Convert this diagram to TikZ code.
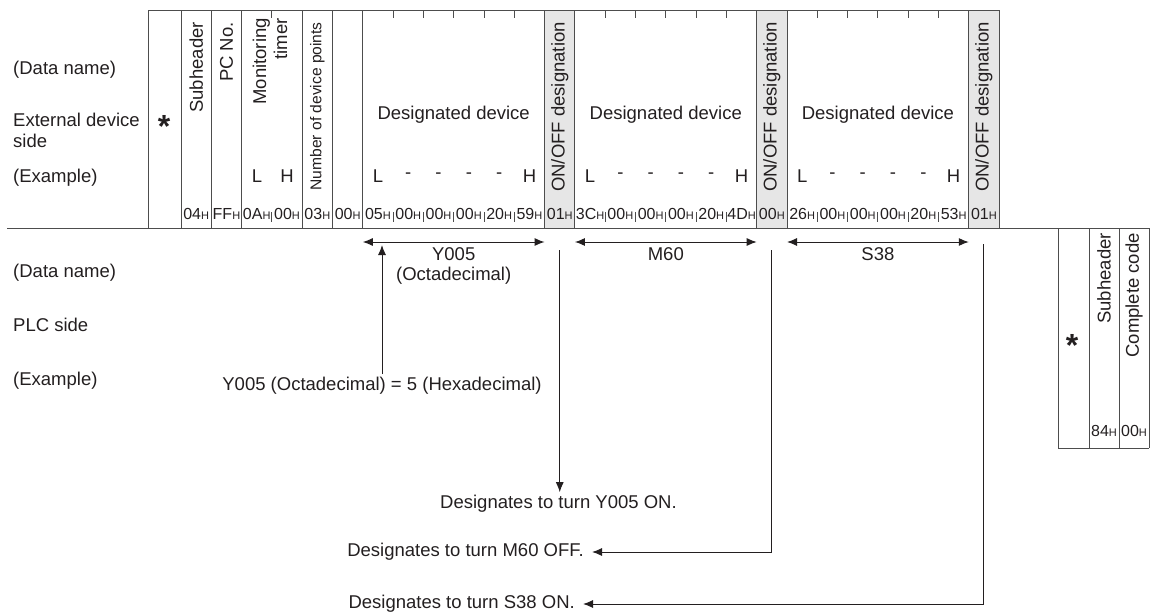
\documentclass[tikz,border=0pt]{standalone}
\usepackage{fontspec}
\setmainfont{Liberation Sans}
\usetikzlibrary{arrows.meta,positioning}
\definecolor{ink}{HTML}{231F20}
\definecolor{frame}{HTML}{4D4D4D}
\definecolor{onofffill}{HTML}{E6E6E6}
\newcommand{\bodyfont}{\fontsize{18.5}{21}\selectfont}
\newcommand{\ptsfont}{\fontsize{15.6}{18}\selectfont}
\newcommand{\hexfont}{\fontsize{16}{17}\selectfont}
\newcommand{\starfont}{\fontsize{32}{32}\selectfont\bfseries}
\newcommand{\hx}[1]{#1{\fontsize{11}{11}\selectfont H}}
\tikzset{
 every node/.append style={font=\bodyfont,text=ink,inner sep=0pt},
 tabline/.style={draw=frame,line width=.9pt},
 tickline/.style={draw=frame,line width=.9pt},
 vhead/.style={rotate=90,anchor=east},
 hexval/.style={font=\hexfont},
 sidelbl/.style={anchor=west,align=left},
 starmark/.style={font=\starfont},
 note/.style={inner xsep=8pt,inner ysep=3pt},
 arr/.style={-{Latex[length=10pt,width=8pt]},draw=ink,line width=1pt},
 darr/.style={{Latex[length=10pt,width=8pt]}-{Latex[length=10pt,width=8pt]},draw=ink,line width=1pt},
}

\begin{document}
\begin{tikzpicture}[x=1pt,y=-1pt]

\useasboundingbox (0,0) rectangle (1173,613);
\foreach \col in {12,19,26} \fill[onofffill] ({181+30.3*\col},10) rectangle ({181+30.3*(\col+1)},228);
\draw[tabline] (148,10) -- (999.1,10);
\draw[tabline] (7,228) -- (1149,228);
\draw[tabline] (148,10) -- (148,228);
\foreach \col in {0,1,2,4,5,6,12,13,19,20,26,27} \draw[tabline] ({181+30.3*\col},10) -- ++(0,218);
\foreach \col in {3,7,8,9,10,11,14,15,16,17,18,21,22,23,24,25} {
 \draw[tickline] ({181+30.3*\col},10) -- ++(0,8);
 \draw[tickline] ({181+30.3*\col},212) -- ++(0,10);
}
\node[sidelbl] (lname) at (13,70) {(Data name)};
\node[sidelbl] (lext) at (13,130) {External device\\side};
\node[sidelbl] (lex) at (13,178) {(Example)};
\node[starmark] (astl) at (164,126) {*};
\node[vhead] (subh) at ({181+30.3*0.5},22) {Subheader};
\node[vhead] (pcno) at ({181+30.3*1.5},22) {PC No.};
\node[vhead,align=right] (mtimer) at (270,18) {Monitoring\\timer};
\node[vhead,font=\ptsfont] (npts) at ({181+30.3*4.5},22) {Number of device points};
\node (tl) at (257,176) {L};
\node (th) at (287,176) {H};
\foreach \st [count=\n] in {6,13,20} {
 \node (dev\n) at ({181+30.3*(\st+3)},115) {Designated device};
 \node (lo\n) at ({181+30.3*(\st+.5)},176) {L};
 \foreach \m in {1,...,4} \node (dash\n\m) at ({181+30.3*(\st+\m+.5)},176) {-};
 \node (hi\n) at ({181+30.3*(\st+5.5)},176) {H};
 \node[vhead] (onoff\n) at ({181+30.3*(\st+6.5)},22) {ON/OFF designation};
}
\foreach \hv [count=\i from 0] in {04,FF,0A,00,03,00,05,00,00,00,20,59,01,3C,00,00,00,20,4D,00,26,00,00,00,20,53,01}
 \node[hexval] (hex\i) at ({181+30.3*(\i+.5)},214) {\hx{\hv}};

\foreach \st/\dn [count=\n] in {6/Y005,13/M60,20/S38} {
 \coordinate (spanw\n) at ({181+30.3*\st},242);
 \coordinate (spane\n) at ({181+30.3*(\st+6)},242);
 \draw[darr] (spanw\n) -- (spane\n);
 \node (dname\n) at ({181+30.3*(\st+3)},254) {\dn};
}
\node (octa) at (453.7,276) {(Octadecimal)};
\node[sidelbl] (pname) at (13,273) {(Data name)};
\node[sidelbl] (pside) at (13,325) {PLC side};
\node[sidelbl] (pex) at (13,381) {(Example)};
\node[inner sep=3pt] (yeq) at (382,386) {Y005 (Octadecimal) = 5 (Hexadecimal)};
\coordinate (ytip) at (382,245);
\draw[arr] (yeq.north) -- (ytip);
\coordinate (drop1) at (559.75,250);
\coordinate (drop2) at (771.85,250);
\coordinate (drop3) at (983.95,244);
\node[note] (on1) at (558.5,504) {Designates to turn Y005 ON.};
\node[note,anchor=east] (off2) at (592,552) {Designates to turn M60 OFF.};
\node[note,anchor=east] (on3) at (583,604) {Designates to turn S38 ON.};
\draw[arr] (drop1) -- (drop1 |- on1.north);
\draw[arr] (drop2) |- (off2.east);
\draw[arr] (drop3) |- (on3.east);

\foreach \x in {1058,1089,1119,1149} \draw[tabline] (\x,228) -- (\x,448);
\draw[tabline] (1058,448) -- (1149,448);
\node[starmark] (astr) at (1072,345) {*};
\node[vhead] (psubh) at (1104,233) {Subheader};
\node[vhead] (pcode) at (1134,233) {Complete code};
\node[hexval] (p84) at (1104,431) {\hx{84}};
\node[hexval] (p00) at (1134,431) {\hx{00}};
\end{tikzpicture}
\end{document}
